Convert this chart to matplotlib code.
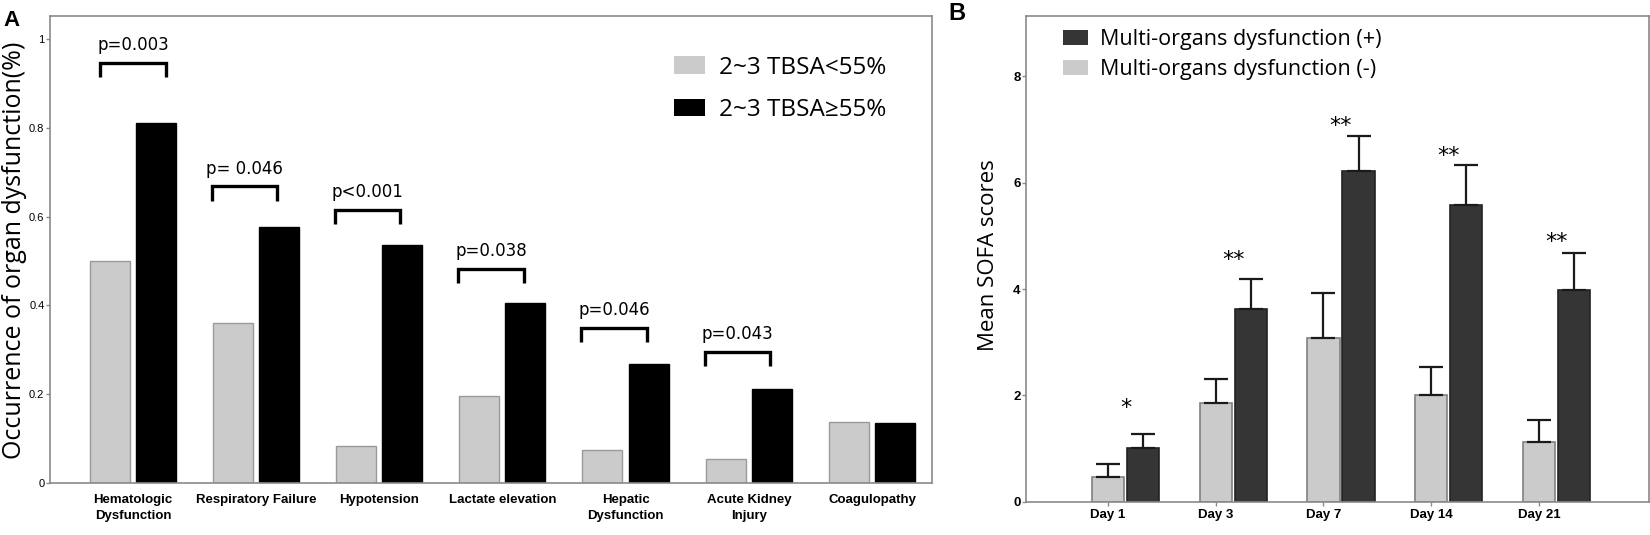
import matplotlib
matplotlib.use('Agg')
import matplotlib.pyplot as plt
from matplotlib.patches import Patch
import numpy as np

# panel A data
organs = ['Hematologic\nDysfunction', 'Respiratory Failure', 'Hypotension',
          'Lactate elevation', 'Hepatic\nDysfunction', 'Acute Kidney\nInjury',
          'Coagulopathy']
tbsa_low = [0.50, 0.36, 0.083, 0.196, 0.074, 0.055, 0.138]
tbsa_high = [0.81, 0.577, 0.537, 0.405, 0.268, 0.212, 0.135]
p_labels = ['p=0.003', 'p= 0.046', 'p<0.001', 'p=0.038', 'p=0.046', 'p=0.043']
bracket_y = [0.946, 0.668, 0.616, 0.482, 0.349, 0.295]
a_ticks = [0, 0.2, 0.4, 0.6, 0.8, 1]
a_ticklabels = ['0', '0.2', '0.4', '0.6', '0.8', '1']

# panel B data
days = ['Day 1', 'Day 3', 'Day 7', 'Day 14', 'Day 21']
sofa_neg = [0.46, 1.85, 3.07, 2.00, 1.12]
sofa_neg_err = [0.24, 0.45, 0.85, 0.54, 0.42]
sofa_pos = [1.01, 3.63, 6.22, 5.58, 3.98]
sofa_pos_err = [0.27, 0.56, 0.66, 0.75, 0.70]
stars = ['*', '**', '**', '**', '**']
star_y = [1.97, 4.74, 7.27, 6.70, 5.09]

LIGHT = '#cbcbcb'
DARK = '#353535'
FRAME = '#8a8a8a'
TICKFONT = 'Liberation Sans'
BIGFONT = ['Open Sans', 'DejaVu Sans']

fig = plt.figure(figsize=(16.5, 5.35), dpi=100)

# ---------------- panel A ----------------
axA = fig.add_axes([50 / 1650, 1 - 483 / 535, 882 / 1650, (483 - 15.7) / 535])
x = np.arange(len(organs))
w = 0.325
axA.bar(x - 0.19, tbsa_low, w, color=LIGHT, edgecolor='#9a9a9a', linewidth=1)
axA.bar(x + 0.185, tbsa_high, w, color='black', edgecolor='black', linewidth=1)
axA.set_xlim(-0.674, 6.485)
axA.set_ylim(0, 1.0525)
axA.set_yticks(a_ticks)
axA.set_yticklabels(a_ticklabels, fontfamily=TICKFONT, fontsize=8)
axA.set_xticks(x)
axA.set_xticklabels(organs, fontfamily=TICKFONT, fontsize=9.5, fontweight='bold',
                    linespacing=1.4)
axA.tick_params(axis='x', length=0, pad=8)
axA.tick_params(axis='y', length=3, width=1, color=FRAME, pad=1)
for s in axA.spines.values():
    s.set_color(FRAME)
    s.set_linewidth(1.2)

for i, (lab, by) in enumerate(zip(p_labels, bracket_y)):
    if i == 0:
        x0, x1 = i - 0.27, i + 0.27
    else:
        x0, x1 = i - 0.36, i + 0.17
    axA.plot([x0, x0, x1, x1], [by - 0.032, by, by, by - 0.032], color='black',
             lw=2.4, solid_joinstyle='miter', solid_capstyle='butt')
    axA.text((x0 + x1) / 2, by + 0.04, lab, ha='center', va='center',
             fontsize=12, fontfamily='DejaVu Sans')

handlesA = [Patch(facecolor=LIGHT, edgecolor='none'), Patch(facecolor='black', edgecolor='none')]
axA.legend(handlesA, ['2~3 TBSA<55%', '2~3 TBSA\u226555%'], loc='upper left',
           bbox_to_anchor=(0.697, 0.935), frameon=False,
           prop={'family': BIGFONT, 'size': 17.5}, handlelength=1.25,
           handleheight=0.75, labelspacing=0.75, handletextpad=0.6, borderaxespad=0)

fig.text(15 / 1650, 1 - 250 / 535, 'Occurrence of organ dysfunction(%)', rotation=90,
         ha='center', va='center', fontsize=18, family=BIGFONT)
fig.text(3 / 1650, 1 - 21 / 535, 'A', ha='left', va='center', fontsize=16,
         fontweight='bold', family=TICKFONT)

# ---------------- panel B ----------------
axB = fig.add_axes([1026 / 1650, 1 - 501.7 / 535, 623 / 1650, (501.7 - 15.7) / 535])
xd = np.arange(len(days))
wb = 0.30
off = 0.325
axB.bar(xd, sofa_neg, wb, color=LIGHT, edgecolor='#808080', linewidth=1.2,
        label='Multi-organs dysfunction (-)')
axB.bar(xd + off, sofa_pos, wb, color=DARK, edgecolor='#222222', linewidth=1.2,
        label='Multi-organs dysfunction (+)')
axB.errorbar(xd, sofa_neg, yerr=[np.zeros(len(days)), sofa_neg_err], fmt='none',
             ecolor='#1a1a1a', elinewidth=1.6, capsize=8.5, capthick=1.6)
axB.errorbar(xd + off, sofa_pos, yerr=[np.zeros(len(days)), sofa_pos_err], fmt='none',
             ecolor='#1a1a1a', elinewidth=1.6, capsize=8.5, capthick=1.6)
for i, (st, sy) in enumerate(zip(stars, star_y)):
    axB.text(i + off / 2, sy - 0.2, st, ha='center', va='center', fontsize=16,
             family='DejaVu Sans')

axB.set_xlim(-0.76, 5.02)
axB.set_ylim(0, 9.14)
axB.set_yticks([0, 2, 4, 6, 8])
axB.set_yticklabels(['0', '2', '4', '6', '8'], fontfamily=TICKFONT, fontsize=9.5,
                    fontweight='bold')
axB.set_xticks(xd)
axB.set_xticklabels(days, fontfamily=TICKFONT, fontsize=9.5, fontweight='bold')
axB.tick_params(axis='x', length=3, width=1, color=FRAME, pad=2)
axB.tick_params(axis='y', length=3, width=1, color=FRAME, pad=1)
for s in axB.spines.values():
    s.set_color(FRAME)
    s.set_linewidth(1.2)

handlesB = [Patch(facecolor=DARK, edgecolor='none'), Patch(facecolor=LIGHT, edgecolor='none')]
axB.legend(handlesB, ['Multi-organs dysfunction (+)', 'Multi-organs dysfunction (-)'],
           loc='upper left', bbox_to_anchor=(0.045, 0.99), frameon=False,
           prop={'family': BIGFONT, 'size': 15.5}, handlelength=1.2,
           handleheight=0.7, labelspacing=0.4, handletextpad=0.55, borderaxespad=0)

fig.text(989 / 1650, 1 - 255 / 535, 'Mean SOFA scores', rotation=90,
         ha='center', va='center', fontsize=16, family=BIGFONT)
fig.text(948 / 1650, 1 - 13 / 535, 'B', ha='left', va='center', fontsize=17,
         fontweight='bold', family=TICKFONT)

fig.savefig('out.png', dpi=100)
